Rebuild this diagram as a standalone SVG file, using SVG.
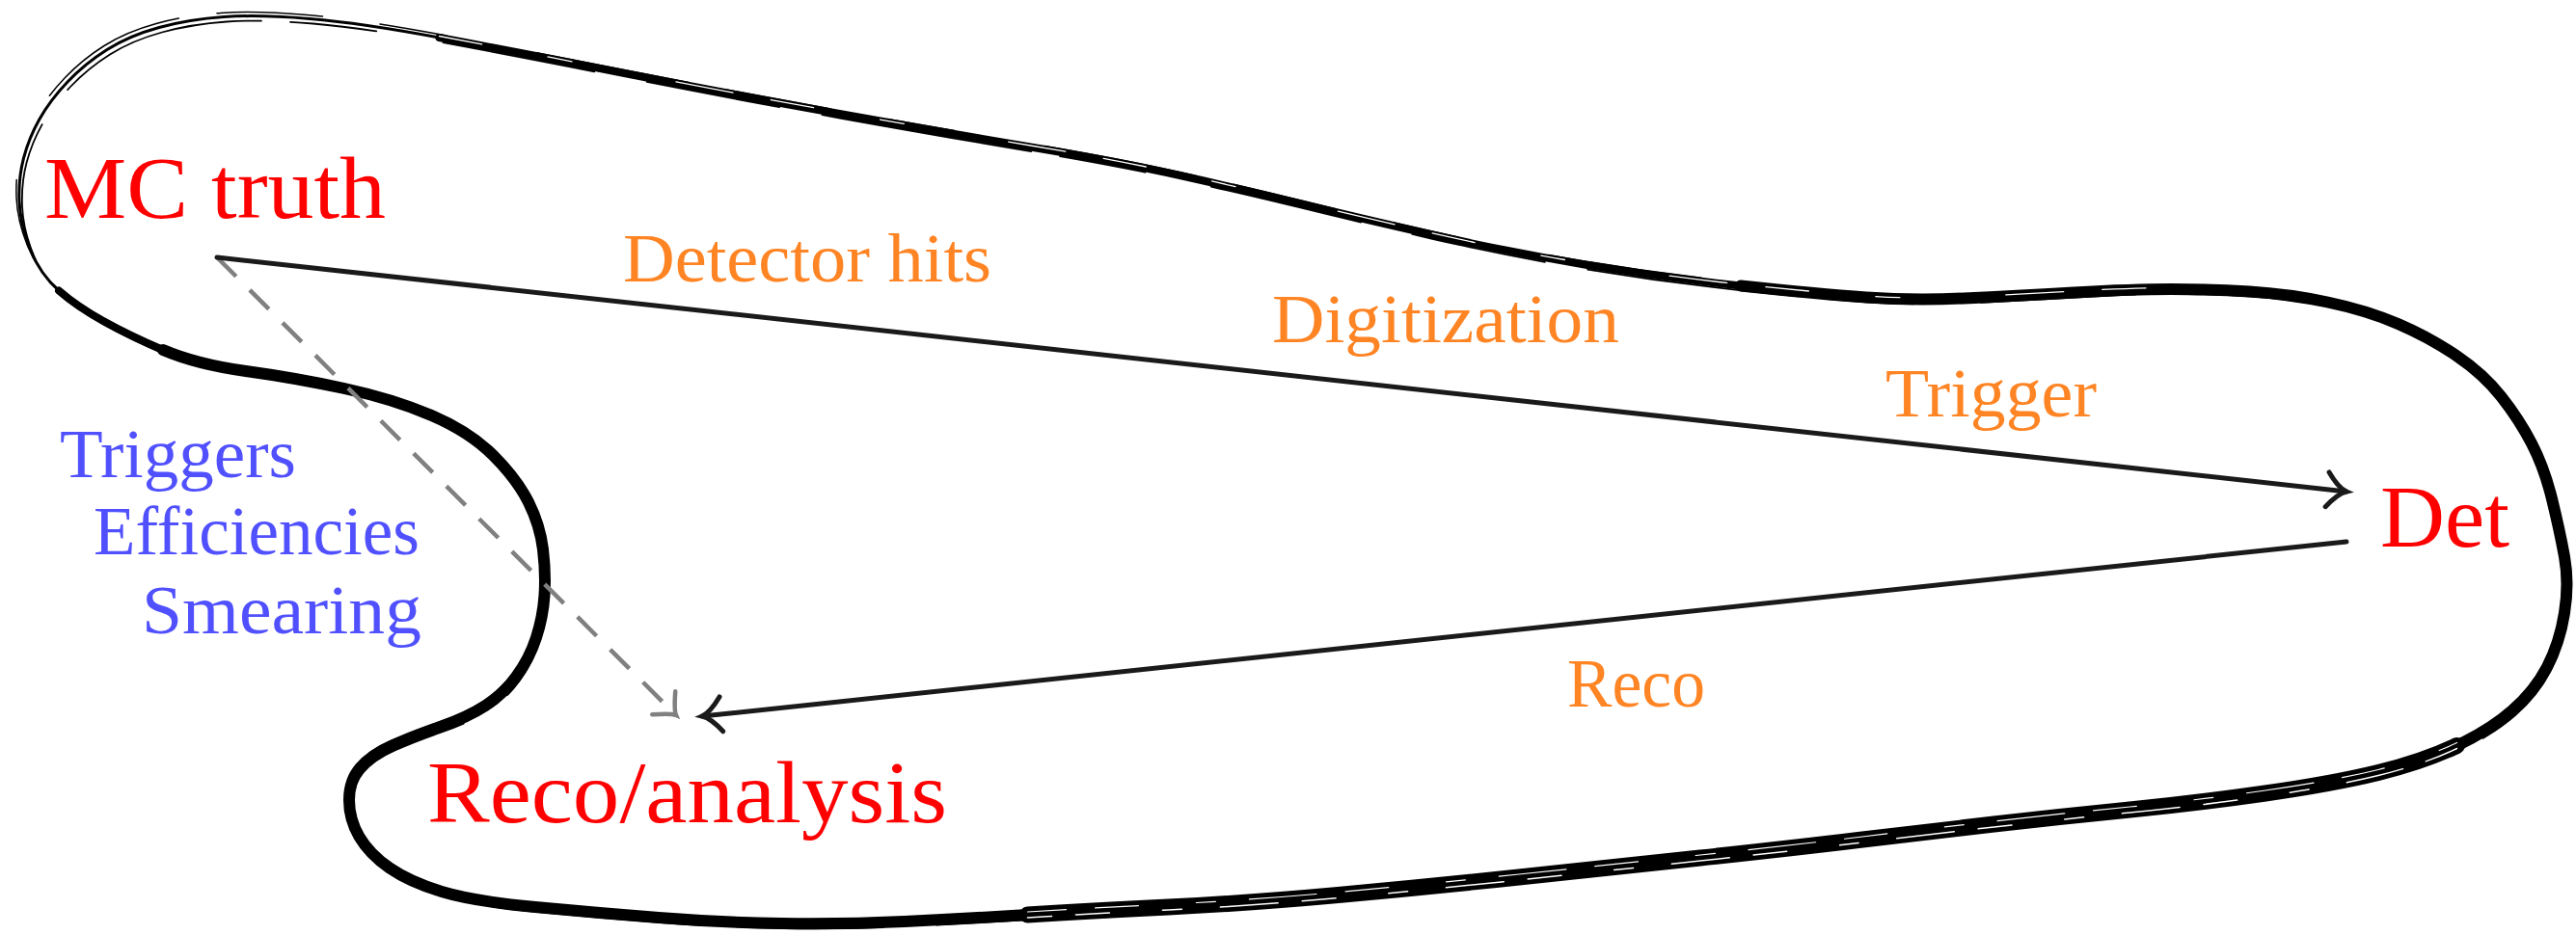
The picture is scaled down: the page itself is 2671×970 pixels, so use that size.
<svg xmlns="http://www.w3.org/2000/svg" width="2671" height="970" viewBox="0 0 2671 970">
  <style>
    .lbl { font-family: "Liberation Serif", "Times New Roman", serif; }
    .node { font-size: 92px; fill: #ff0000; }
    .step { font-size: 71px; fill: #ff8424; }
    .eff  { font-size: 71px; fill: #5050ff; }
    .ink  { fill: none; stroke: #000; stroke-linecap: round; stroke-linejoin: round; }
    .w-thin { stroke-width: 3px; }
    .w-mid { stroke-width: 8px; }
    .w-bold { stroke-width: 12px; }
    .w-heavy { stroke-width: 17px; }
    .strand1 { stroke-width: 1.8px; stroke-dasharray: 140 45 220 30 90 70 160 55; }
    .strand2 { stroke-width: 1.5px; stroke-dasharray: 70 95 160 40 110 60; }
    .streak { fill: none; stroke: #fff; stroke-linecap: round; }
    .s1 { stroke-width: 1.3px; stroke-dasharray: 45 70 25 110 60 40; }
    .s2 { stroke-width: 1.5px; stroke-dasharray: 35 25 60 40 20 55; }
    .s3 { stroke-width: 1.2px; stroke-dasharray: 20 60 45 30 70 35; }
    .edge { fill: none; stroke: #1a1a1a; stroke-width: 5px; stroke-linecap: round; }
    .dash { fill: none; stroke: #808080; stroke-width: 4.5px; stroke-dasharray: 28 20; }
  </style>
  <defs>
    <marker id="to" markerUnits="userSpaceOnUse" orient="auto" overflow="visible" markerWidth="1" markerHeight="1" refX="0" refY="0">
      <path d="M-20,-18 C-14,-10 -6,-2 0,0 C-6,2 -14,10 -20,18" fill="none" stroke="#1a1a1a" stroke-width="5" stroke-linecap="round"/>
    </marker>
    <marker id="to-grey" markerUnits="userSpaceOnUse" orient="auto" overflow="visible" markerWidth="1" markerHeight="1" refX="0" refY="0">
      <path d="M-18,-17 C-12,-10 -5,-2 0,0 C-5,2 -12,10 -18,17" fill="none" stroke="#808080" stroke-width="4.5" stroke-linecap="round"/>
    </marker>
    <!-- full hand-drawn outline -->
    <path id="blob" d="M31.5,259 Q21,233 20,209 Q19,185 24.5,164 Q30,143 41,123.5 Q52,104 70,85 Q88,66 111,51.5 Q134,37 165,28.5 Q196,20 232,17.5 Q268,15 321.5,19.5 Q375,24 455.5,39 Q536,54 647.5,76 Q759,98 870.5,118 Q982,138 1071.5,153 Q1161,168 1228,183 Q1295,198 1347.5,211 Q1400,224 1481,242.5 Q1562,261 1643,274.5 Q1724,288 1805,296.5 Q1886,305 1935,308.5 Q1984,312 2036.5,309.5 Q2089,307 2150,303.5 Q2211,300 2251.5,300 Q2292,300 2332.5,302.5 Q2373,305 2413.5,313.5 Q2454,322 2486.5,336 Q2519,350 2547,369 Q2575,388 2593.5,411.5 Q2612,435 2625,460 Q2638,485 2646,517.5 Q2654,550 2659,577.5 Q2664,605 2659,636 Q2654,667 2641,692 Q2628,717 2605,737 Q2582,757 2547.5,773.5 Q2513,790 2466,801.5 Q2419,813 2349,823 Q2279,833 2208.5,840 Q2138,847 2067.5,855 Q1997,863 1927,871.5 Q1857,880 1763,890 Q1669,900 1575,910 Q1481,920 1387.5,928.5 Q1294,937 1211.5,941 Q1129,945 1065.5,949 Q1002,953 938,956 Q874,959 810.5,958 Q747,957 683,952 Q619,947 555,941 Q491,935 458,925 Q425,915 404,900.5 Q383,886 372.5,868 Q362,850 362,830 Q362,810 373.5,796.5 Q385,783 406.5,773.5 Q428,764 456.5,754 Q485,744 503.5,732 Q522,720 535.5,701.5 Q549,683 556,661.5 Q563,640 564.5,617.5 Q566,595 563,570 Q560,545 548,521 Q536,497 511.5,472.5 Q487,448 447.5,431 Q408,414 357,403 Q306,392 255,385 Q204,378 169,363 Q134,348 107,333 Q80,318 61,301.5 Q42,285 31.5,259 Z"/>
    <path id="bottom" d="M2547.5,773.5 Q2513,790 2466,801.5 Q2419,813 2349,823 Q2279,833 2208.5,840 Q2138,847 2067.5,855 Q1997,863 1927,871.5 Q1857,880 1763,890 Q1669,900 1575,910 Q1481,920 1387.5,928.5 Q1294,937 1211.5,941 Q1129,945 1065.5,949"/>
    <path id="topline" d="M455.5,39 Q536,54 647.5,76 Q759,98 870.5,118 Q982,138 1071.5,153 Q1161,168 1228,183 Q1295,198 1347.5,211 Q1400,224 1481,242.5 Q1562,261 1643,274.5 Q1724,288 1805,296.5 Q1886,305 1935,308.5 Q1984,312 2036.5,309.5 Q2089,307 2150,303.5 Q2211,300 2251.5,300"/>
  </defs>

  <!-- sketchy outline -->
  <g id="outline">
    <path class="ink w-thin" d="M31.5,259 Q21,233 20,209 Q19,185 24.5,164 Q30,143 41,123.5 Q52,104 70,85 Q88,66 111,51.5 Q134,37 165,28.5 Q196,20 232,17.5 Q268,15 321.5,19.5 Q375,24 455.5,39 Q536,54 647.5,76 Q759,98 870.5,118 Q982,138 1071.5,153 Q1161,168 1228,183 Q1295,198 1347.5,211 Q1400,224 1481,242.5 Q1562,261 1643,274.5 Q1724,288 1805,296.5 Q1886,305 1935,308.5 Q1984,312 2036.5,309.5 Q2089,307 2150,303.5 Q2211,300 2251.5,300 Q2292,300 2332.5,302.5 Q2373,305 2413.5,313.5 Q2454,322 2486.5,336 Q2519,350 2547,369 Q2575,388 2593.5,411.5 Q2612,435 2625,460 Q2638,485 2646,517.5 Q2654,550 2659,577.5 Q2664,605 2659,636 Q2654,667 2641,692 Q2628,717 2605,737 Q2582,757 2547.5,773.5 Q2513,790 2466,801.5 Q2419,813 2349,823 Q2279,833 2208.5,840 Q2138,847 2067.5,855 Q1997,863 1927,871.5 Q1857,880 1763,890 Q1669,900 1575,910 Q1481,920 1387.5,928.5 Q1294,937 1211.5,941 Q1129,945 1065.5,949 Q1002,953 938,956 Q874,959 810.5,958 Q747,957 683,952 Q619,947 555,941 Q491,935 458,925 Q425,915 404,900.5 Q383,886 372.5,868 Q362,850 362,830 Q362,810 373.5,796.5 Q385,783 406.5,773.5 Q428,764 456.5,754 Q485,744 503.5,732 Q522,720 535.5,701.5 Q549,683 556,661.5 Q563,640 564.5,617.5 Q566,595 563,570 Q560,545 548,521 Q536,497 511.5,472.5 Q487,448 447.5,431 Q408,414 357,403 Q306,392 255,385 Q204,378 169,363 Q134,348 107,333 Q80,318 61,301.5 Q42,285 31.5,259 Z"/>
    <!-- heavier pen pass: everything but the top-left corner -->
    <path class="ink w-mid" d="M455.5,39 Q536,54 647.5,76 Q759,98 870.5,118 Q982,138 1071.5,153 Q1161,168 1228,183 Q1295,198 1347.5,211 Q1400,224 1481,242.5 Q1562,261 1643,274.5 Q1724,288 1805,296.5 Q1886,305 1935,308.5 Q1984,312 2036.5,309.5 Q2089,307 2150,303.5 Q2211,300 2251.5,300 Q2292,300 2332.5,302.5 Q2373,305 2413.5,313.5 Q2454,322 2486.5,336 Q2519,350 2547,369 Q2575,388 2593.5,411.5 Q2612,435 2625,460 Q2638,485 2646,517.5 Q2654,550 2659,577.5 Q2664,605 2659,636 Q2654,667 2641,692 Q2628,717 2605,737 Q2582,757 2547.5,773.5 Q2513,790 2466,801.5 Q2419,813 2349,823 Q2279,833 2208.5,840 Q2138,847 2067.5,855 Q1997,863 1927,871.5 Q1857,880 1763,890 Q1669,900 1575,910 Q1481,920 1387.5,928.5 Q1294,937 1211.5,941 Q1129,945 1065.5,949 Q1002,953 938,956 Q874,959 810.5,958 Q747,957 683,952 Q619,947 555,941 Q491,935 458,925 Q425,915 404,900.5 Q383,886 372.5,868 Q362,850 362,830 Q362,810 373.5,796.5 Q385,783 406.5,773.5 Q428,764 456.5,754 Q485,744 503.5,732 Q522,720 535.5,701.5 Q549,683 556,661.5 Q563,640 564.5,617.5 Q566,595 563,570 Q560,545 548,521 Q536,497 511.5,472.5 Q487,448 447.5,431 Q408,414 357,403 Q306,392 255,385 Q204,378 169,363 Q134,348 107,333 Q80,318 61,301.5"/>
    <!-- heaviest pass: right side, bottom and left lobe -->
    <path class="ink w-bold" d="M1805,296.5 Q1886,305 1935,308.5 Q1984,312 2036.5,309.5 Q2089,307 2150,303.5 Q2211,300 2251.5,300 Q2292,300 2332.5,302.5 Q2373,305 2413.5,313.5 Q2454,322 2486.5,336 Q2519,350 2547,369 Q2575,388 2593.5,411.5 Q2612,435 2625,460 Q2638,485 2646,517.5 Q2654,550 2659,577.5 Q2664,605 2659,636 Q2654,667 2641,692 Q2628,717 2605,737 Q2582,757 2547.5,773.5 Q2513,790 2466,801.5 Q2419,813 2349,823 Q2279,833 2208.5,840 Q2138,847 2067.5,855 Q1997,863 1927,871.5 Q1857,880 1763,890 Q1669,900 1575,910 Q1481,920 1387.5,928.5 Q1294,937 1211.5,941 Q1129,945 1065.5,949 Q1002,953 938,956 Q874,959 810.5,958 Q747,957 683,952 Q619,947 555,941 Q491,935 458,925 Q425,915 404,900.5 Q383,886 372.5,868 Q362,850 362,830 Q362,810 373.5,796.5 Q385,783 406.5,773.5 Q428,764 456.5,754 Q485,744 503.5,732 Q522,720 535.5,701.5 Q549,683 556,661.5 Q563,640 564.5,617.5 Q566,595 563,570 Q560,545 548,521 Q536,497 511.5,472.5 Q487,448 447.5,431 Q408,414 357,403 Q306,392 255,385 Q204,378 169,363"/>
    <path class="ink w-heavy" d="M2547.5,773.5 Q2513,790 2466,801.5 Q2419,813 2349,823 Q2279,833 2208.5,840 Q2138,847 2067.5,855 Q1997,863 1927,871.5 Q1857,880 1763,890 Q1669,900 1575,910 Q1481,920 1387.5,928.5 Q1294,937 1211.5,941 Q1129,945 1065.5,949"/>
    <!-- loose pen strands and dry-brush gaps -->
    <use href="#blob" class="ink strand1" transform="translate(3,5)"/>
    <use href="#blob" class="ink strand2" transform="translate(-3,-4)"/>
    <use href="#topline" class="streak s1" transform="translate(0,-1.5)"/>
    <use href="#bottom" class="streak s2" transform="translate(0,3)"/>
    <use href="#bottom" class="streak s3" transform="translate(0,-3)"/>
  </g>

  <!-- connectors -->
  <g id="connectors">
    <path class="dash" d="M225,267 L701,742" marker-end="url(#to-grey)"/>
    <path class="edge" d="M225,267 L2433,510" marker-end="url(#to)"/>
    <path class="edge" d="M2433,562 L728,743" marker-end="url(#to)"/>
  </g>

  <!-- edge labels -->
  <g id="labels-sim" class="lbl step">
    <text x="646" y="292" textLength="382" lengthAdjust="spacingAndGlyphs">Detector hits</text>
    <text x="1319" y="355" textLength="360" lengthAdjust="spacingAndGlyphs">Digitization</text>
    <text x="1955" y="432" textLength="219" lengthAdjust="spacingAndGlyphs">Trigger</text>
  </g>
  <g id="labels-reco" class="lbl step">
    <text x="1625" y="733" textLength="143" lengthAdjust="spacingAndGlyphs">Reco</text>
  </g>
  <g id="labels-fast" class="lbl eff">
    <text x="62" y="495" textLength="245" lengthAdjust="spacingAndGlyphs">Triggers</text>
    <text x="97" y="575" textLength="338" lengthAdjust="spacingAndGlyphs">Efficiencies</text>
    <text x="147" y="657" textLength="290" lengthAdjust="spacingAndGlyphs">Smearing</text>
  </g>

  <!-- nodes -->
  <g id="mc-truth"><text class="lbl node" x="46" y="226" textLength="354" lengthAdjust="spacingAndGlyphs">MC truth</text></g>
  <g id="det"><text class="lbl node" x="2468" y="567" textLength="134" lengthAdjust="spacingAndGlyphs">Det</text></g>
  <g id="reco-analysis"><text class="lbl node" x="443" y="853" textLength="539" lengthAdjust="spacingAndGlyphs">Reco/analysis</text></g>
</svg>
